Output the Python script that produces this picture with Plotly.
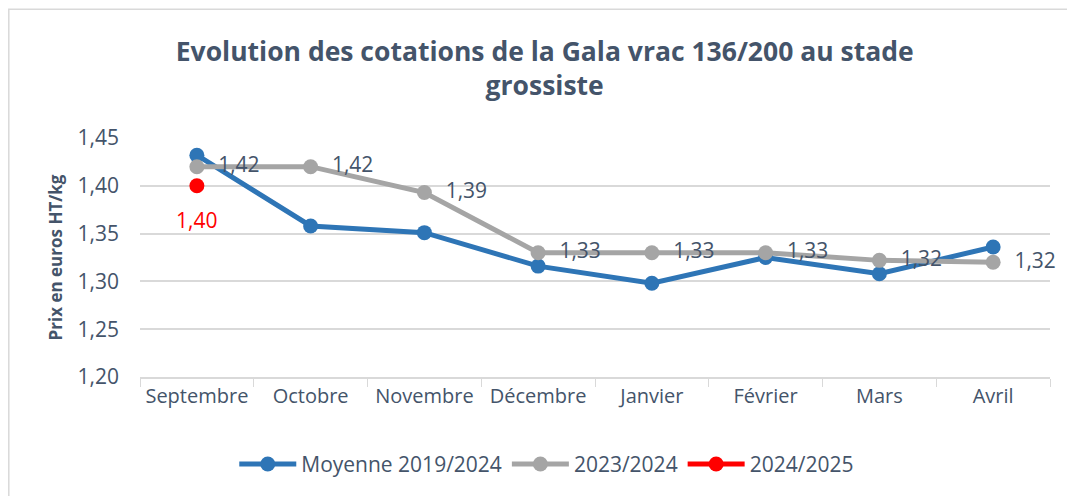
import plotly.graph_objects as go

months = ["Septembre", "Octobre", "Novembre", "Décembre", "Janvier", "Février", "Mars", "Avril"]
moyenne_2019_2024 = [1.432, 1.358, 1.351, 1.316, 1.298, 1.325, 1.308, 1.336]
saison_2023_2024 = [1.42, 1.42, 1.393, 1.33, 1.33, 1.33, 1.322, 1.320]
saison_2024_2025 = [1.40]
y_ticks = [1.20, 1.25, 1.30, 1.35, 1.40, 1.45]

BLUE = "#2e75b6"
GRAY = "#a5a5a5"
RED = "#ff0000"
TXT = "#44546a"
GRID = "#d9d9d9"
FONT = "Open Sans"

W, H = 1067, 488
ML, MR, MT, MB = 132, 25, 130, 118
PW, PH = W - ML - MR, H - MT - MB

def fmt(v):
    return f"{v:.2f}".replace(".", ",")

fig = go.Figure()
fig.add_trace(go.Scatter(
    x=months, y=moyenne_2019_2024, name="Moyenne 2019/2024",
    mode="lines+markers", line=dict(color=BLUE, width=5),
    marker=dict(size=15, color=BLUE),
))
fig.add_trace(go.Scatter(
    x=months, y=saison_2023_2024, name="2023/2024",
    mode="lines+markers+text", line=dict(color=GRAY, width=5),
    marker=dict(size=15, color=GRAY), cliponaxis=False,
    text=["\u00a0\u00a0" + fmt(v) for v in saison_2023_2024], textposition="middle right",
    textfont=dict(family=FONT, size=21, color=TXT),
))
fig.add_trace(go.Scatter(
    x=months[:len(saison_2024_2025)], y=saison_2024_2025, name="2024/2025",
    mode="lines+markers", line=dict(color=RED, width=5),
    marker=dict(size=15, color=RED),
))
for m, v in zip(months, saison_2024_2025):
    fig.add_annotation(x=m, y=v, text=fmt(v), showarrow=False, yshift=-34,
                       font=dict(family=FONT, size=21, color=RED))

# outer chart frame
fig.add_shape(type="rect", xref="paper", yref="paper",
              x0=(0.8 - ML) / PW, x1=(W - 5 - ML) / PW,
              y0=(PH + MB - (H - 6)) / PH, y1=(PH + MT - 0.8) / PH,
              line=dict(color=GRID, width=1.5), layer="below")

fig.update_layout(
    width=W, height=H,
    paper_bgcolor="white", plot_bgcolor="white",
    separators=", ",
    margin=dict(l=ML, r=MR, t=MT, b=MB),
    title=dict(text="<b>Evolution des cotations de la Gala vrac 136/200 au stade<br>grossiste</b>",
               x=0.503, xanchor="center", y=1 - 53 / H, yanchor="middle",
               font=dict(family=FONT, size=26.5, color=TXT)),
    font=dict(family=FONT, size=21, color=TXT),
    showlegend=True,
    legend=dict(orientation="h", x=0.447, xanchor="center", y=-0.36, yanchor="middle",
                font=dict(family=FONT, size=21, color=TXT), itemwidth=57,
                traceorder="normal"),
    xaxis=dict(type="category", range=[-0.5, 7.5], showgrid=False,
               showline=True, linecolor=GRID, linewidth=1.5,
               ticks="outside", tickson="boundaries", ticklen=8, tickcolor=GRID,
               tickfont=dict(family=FONT, size=20, color=TXT)),
    yaxis=dict(range=[1.20, 1.45], tickvals=y_ticks, tickformat=".2f",
               showgrid=True, gridcolor=GRID, gridwidth=1.5, zeroline=False,
               showline=False, ticks="", ticklabelstandoff=20,
               tickfont=dict(family=FONT, size=21, color=TXT),
               title=dict(text="<b>Prix en euros HT/kg</b>", standoff=10,
                          font=dict(family=FONT, size=17, color=TXT))),
)

fig.write_html("out.html")
